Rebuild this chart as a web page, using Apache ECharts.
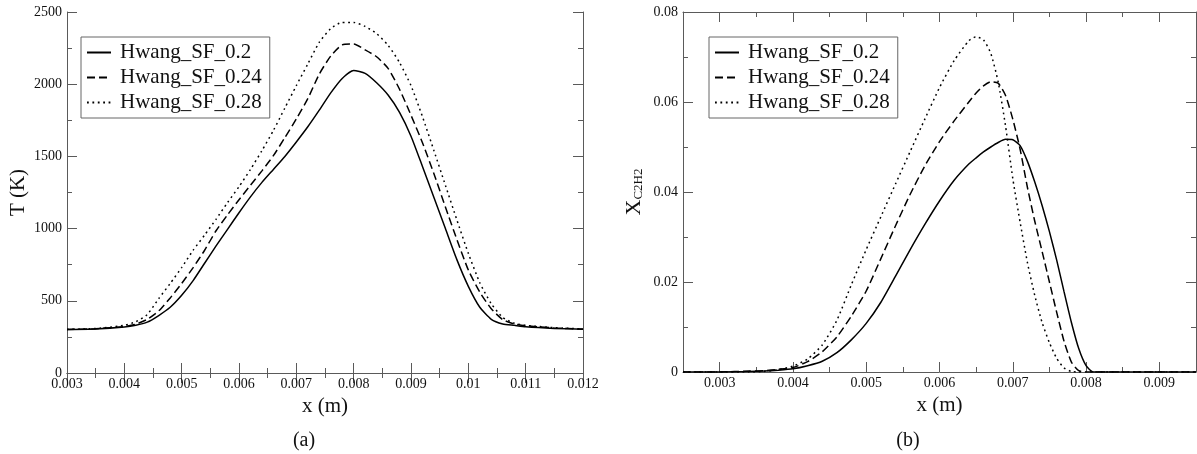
<!DOCTYPE html>
<html>
<head>
<meta charset="utf-8">
<script src="https://cdn.jsdelivr.net/npm/echarts@6/dist/echarts.min.js"></script>
<style>
html,body{margin:0;padding:0;background:#fff;}
#c{width:1197px;height:454px;}
</style>
</head>
<body>
<div id="c"></div>
<script>
// ---------- Data ----------
const seriesNames = ['Hwang_SF_0.2', 'Hwang_SF_0.24', 'Hwang_SF_0.28'];

// (a) Temperature vs x
const xT = [0.003, 0.0035, 0.004, 0.0042, 0.0044, 0.0046, 0.0048, 0.005, 0.0052, 0.0054, 0.0056, 0.0058,
  0.006, 0.0062, 0.0064, 0.0066, 0.0068, 0.007, 0.0072, 0.0074, 0.0076, 0.0078, 0.008, 0.0082, 0.0084,
  0.0086, 0.0088, 0.009, 0.0092, 0.0094, 0.0096, 0.0098, 0.01, 0.0102, 0.0104, 0.0106, 0.0108, 0.011,
  0.0115, 0.012];
const T_SF020 = [302, 305, 318, 330, 352, 398, 455, 538, 640, 760, 880, 995,
  1110, 1220, 1320, 1410, 1500, 1600, 1705, 1820, 1940, 2040, 2095, 2075, 2010,
  1925, 1805, 1640, 1430, 1215, 1000, 785, 600, 455, 372, 340, 330, 320,
  309, 303];
const T_SF024 = [302, 306, 322, 338, 372, 430, 520, 620, 730, 850, 985, 1095,
  1200, 1300, 1400, 1505, 1630, 1760, 1900, 2070, 2195, 2272, 2278, 2238, 2190,
  2110, 1965, 1785, 1595, 1380, 1150, 925, 713, 560, 445, 370, 340, 327,
  312, 304];
const T_SF028 = [302, 308, 330, 355, 405, 515, 620, 730, 850, 955, 1065, 1180,
  1290, 1410, 1540, 1680, 1835, 1990, 2140, 2290, 2385, 2428, 2428, 2400, 2350,
  2270, 2150, 1990, 1775, 1540, 1300, 1060, 829, 625, 480, 385, 345, 330,
  314, 305];

// (b) C2H2 mole fraction vs x
const xC = [0.0025, 0.003, 0.0034, 0.0036, 0.0038, 0.004, 0.0042, 0.0044, 0.0046, 0.0048, 0.005, 0.0052,
  0.0054, 0.0056, 0.0058, 0.006, 0.0062, 0.0064, 0.0065, 0.0066, 0.0067, 0.0068, 0.0069, 0.007,
  0.0071, 0.0072, 0.0073, 0.0074, 0.0075, 0.0076, 0.0077, 0.0078, 0.0079, 0.008, 0.0081, 0.0085,
  0.009, 0.0095];
const C_SF020 = [0, 0, 0.0001, 0.0002, 0.0004, 0.0007, 0.0014, 0.0024, 0.0043, 0.0072, 0.0108, 0.0155,
  0.0213, 0.0272, 0.0328, 0.038, 0.0426, 0.0462, 0.0476, 0.0489, 0.05, 0.051, 0.0517, 0.0516,
  0.0503, 0.0468, 0.0422, 0.037, 0.0312, 0.0248, 0.0178, 0.011, 0.0052, 0.0014, 0, 0,
  0, 0];
const C_SF024 = [0, 0, 0.0002, 0.0003, 0.0006, 0.001, 0.0023, 0.0045, 0.0078, 0.0125, 0.018, 0.0252,
  0.0325, 0.0395, 0.0458, 0.0512, 0.0558, 0.06, 0.062, 0.0636, 0.0645, 0.0642, 0.0615, 0.0562,
  0.0495, 0.041, 0.0335, 0.0268, 0.02, 0.0132, 0.0068, 0.0022, 0.0003, 0, 0, 0,
  0, 0];
const C_SF028 = [0, 0, 0, 0.0001, 0.0005, 0.0013, 0.0029, 0.006, 0.0115, 0.0195, 0.0272, 0.0345,
  0.0418, 0.049, 0.0562, 0.0632, 0.0692, 0.0736, 0.0745, 0.0738, 0.0708, 0.0645, 0.0548, 0.043,
  0.0333, 0.0243, 0.017, 0.011, 0.0065, 0.003, 0.0009, 0.0001, 0, 0, 0, 0,
  0, 0];

// Tick values
const xTicksA = [0.003, 0.004, 0.005, 0.006, 0.007, 0.008, 0.009, 0.01, 0.011, 0.012];
const yTicksA = [0, 500, 1000, 1500, 2000, 2500];
const xTicksB = [0.003, 0.004, 0.005, 0.006, 0.007, 0.008, 0.009];
const yTicksB = [0, 0.02, 0.04, 0.06, 0.08];

// ---------- Styling ----------
const SERIF = '"Liberation Serif", "DejaVu Serif", serif';
const AXIS_COLOR = '#5a5a5a';
const lineTypes = ['solid', [8, 4], [1.8, 3.6]];
const fmt = v => String(parseFloat((+v).toFixed(5)));

function pairs(xs, ys) { return xs.map((x, i) => [x, ys[i]]); }

function frameAxis(extra) {
  return Object.assign({
    type: 'value',
    axisLine: { show: true, lineStyle: { color: AXIS_COLOR, width: 1 } },
    axisTick: { show: true, inside: true, length: 10, lineStyle: { color: AXIS_COLOR, width: 1 } },
    minorTick: { show: true, splitNumber: 2, length: 5, lineStyle: { color: AXIS_COLOR, width: 1 } },
    splitLine: { show: false },
    minorSplitLine: { show: false },
    axisLabel: { show: false }
  }, extra);
}

const labelStyle = { fontFamily: SERIF, fontSize: 14, color: '#111' };
const nameStyle = { fontFamily: SERIF, fontSize: 21, color: '#111' };

const xAxes = [
  frameAxis({ gridIndex: 0, position: 'bottom', min: xTicksA[0], max: xTicksA[xTicksA.length - 1], interval: 0.001,
    axisLabel: Object.assign({ show: true, margin: 4, formatter: fmt }, labelStyle),
    name: 'x (m)', nameLocation: 'middle', nameGap: 22, nameTextStyle: nameStyle }),
  frameAxis({ gridIndex: 0, position: 'top', min: 0.003, max: 0.012, interval: 0.001 }),
  frameAxis({ gridIndex: 1, position: 'bottom', min: 0.0025, max: 0.0095,
    minorTick: { show: false },
    axisTick: { show: true, inside: true, length: 10, customValues: xTicksB, lineStyle: { color: AXIS_COLOR, width: 1 } },
    axisLabel: Object.assign({ show: true, margin: 4, customValues: xTicksB, formatter: fmt }, labelStyle),
    name: 'x (m)', nameLocation: 'middle', nameGap: 22, nameTextStyle: nameStyle }),
  frameAxis({ gridIndex: 1, position: 'bottom', min: 0.0025, max: 0.0095, interval: 0.0005,
    axisLine: { show: false }, minorTick: { show: false },
    axisTick: { show: true, inside: true, length: 5, lineStyle: { color: AXIS_COLOR, width: 1 } } }),
  frameAxis({ gridIndex: 1, position: 'top', min: 0.0025, max: 0.0095,
    minorTick: { show: false },
    axisTick: { show: true, inside: true, length: 10, customValues: xTicksB, lineStyle: { color: AXIS_COLOR, width: 1 } } }),
  frameAxis({ gridIndex: 1, position: 'top', min: 0.0025, max: 0.0095, interval: 0.0005,
    axisLine: { show: false }, minorTick: { show: false },
    axisTick: { show: true, inside: true, length: 5, lineStyle: { color: AXIS_COLOR, width: 1 } } })
];

const yAxes = [
  frameAxis({ gridIndex: 0, position: 'left', min: yTicksA[0], max: yTicksA[yTicksA.length - 1], interval: 500,
    axisLabel: Object.assign({ show: true, margin: 5, formatter: fmt }, labelStyle),
    name: 'T (K)', nameLocation: 'middle', nameRotate: 90, nameGap: 38, nameTextStyle: nameStyle }),
  frameAxis({ gridIndex: 0, position: 'right', min: 0, max: 2500, interval: 500 }),
  frameAxis({ gridIndex: 1, position: 'left', min: yTicksB[0], max: yTicksB[yTicksB.length - 1], interval: 0.02,
    axisLabel: Object.assign({ show: true, margin: 5, formatter: fmt }, labelStyle),
    name: '{x|X}{s|C2H2}', nameLocation: 'middle', nameRotate: 90, nameGap: 38,
    nameTextStyle: { fontFamily: SERIF, color: '#111',
      rich: { x: { fontFamily: SERIF, fontSize: 22, color: '#111' },
              s: { fontFamily: SERIF, fontSize: 13, color: '#111', verticalAlign: 'bottom' } } } }),
  frameAxis({ gridIndex: 1, position: 'right', min: 0, max: 0.08, interval: 0.02 })
];

const Tdata = [T_SF020, T_SF024, T_SF028];
const Cdata = [C_SF020, C_SF024, C_SF028];
const series = [];
seriesNames.forEach((n, i) => {
  series.push({ name: n, type: 'line', xAxisIndex: 0, yAxisIndex: 0, data: pairs(xT, Tdata[i]),
    showSymbol: false, symbol: 'none', smooth: 0.2, silent: true,
    lineStyle: { color: '#000', width: 1.5, type: lineTypes[i] }, itemStyle: { color: '#000' } });
});
seriesNames.forEach((n, i) => {
  series.push({ name: n, type: 'line', xAxisIndex: 2, yAxisIndex: 2, data: pairs(xC, Cdata[i]),
    showSymbol: false, symbol: 'none', smooth: 0.2, silent: true,
    lineStyle: { color: '#000', width: 1.5, type: lineTypes[i] }, itemStyle: { color: '#000' } });
});

function legendAt(left) {
  return {
    orient: 'vertical', left: left, top: 37, padding: [5, 8, 5, 5],
    itemWidth: 24, itemHeight: 14, itemGap: 4,
    borderColor: '#666', borderWidth: 1, backgroundColor: '#fff',
    data: seriesNames, selectedMode: false,
    itemStyle: { opacity: 0 },
    textStyle: { fontFamily: SERIF, fontSize: 21, color: '#111', padding: [0, 0, 0, 4], lineHeight: 21 }
  };
}

const option = {
  animation: false,
  backgroundColor: '#fff',
  grid: [
    { left: 67, top: 12, width: 516, height: 361 },
    { left: 683, top: 12, width: 513, height: 360 }
  ],
  xAxis: xAxes,
  yAxis: yAxes,
  legend: [legendAt(81), legendAt(709)],
  series: series,
  graphic: [
    { type: 'text', x: 304, y: 441, style: { text: '(a)', fontFamily: SERIF, fontSize: 20, fill: '#111', align: 'center', verticalAlign: 'middle' } },
    { type: 'text', x: 908, y: 441, style: { text: '(b)', fontFamily: SERIF, fontSize: 20, fill: '#111', align: 'center', verticalAlign: 'middle' } }
  ]
};

const chart = echarts.init(document.getElementById('c'), null, { renderer: 'canvas' });
chart.setOption(option);
</script>
</body>
</html>
